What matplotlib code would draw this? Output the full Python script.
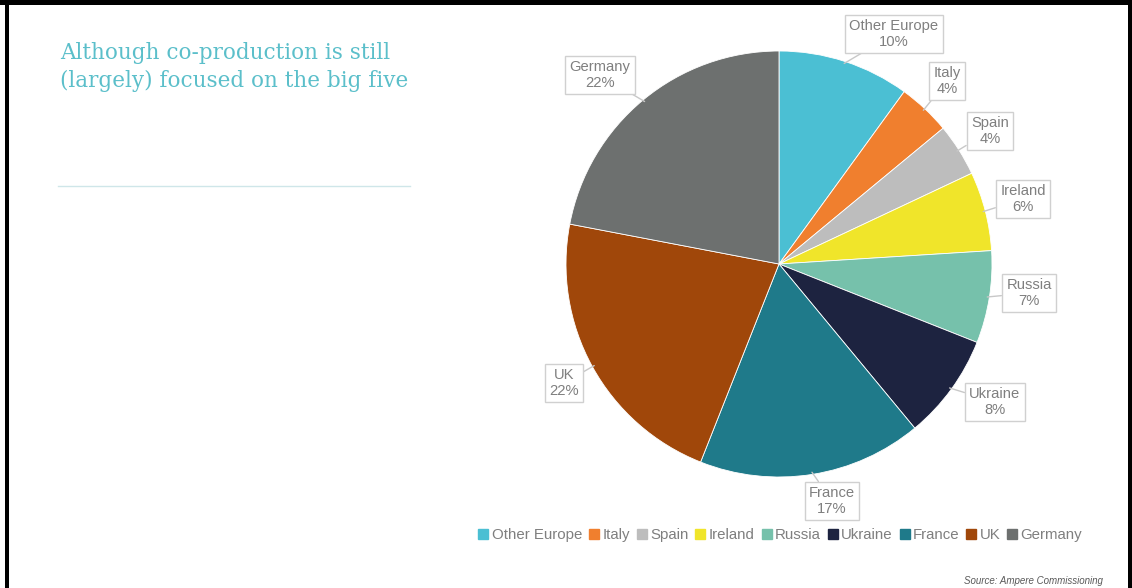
import matplotlib.pyplot as plt
from matplotlib.patches import Rectangle
from matplotlib.lines import Line2D
import numpy as np

categories = ["Other Europe", "Italy", "Spain", "Ireland", "Russia", "Ukraine", "France", "UK", "Germany"]
values = [10, 4, 4, 6, 7, 8, 17, 22, 22]
colors = ["#4bbfd3", "#f07f2e", "#bdbdbd", "#f0e52a", "#76c1ab", "#1d2340", "#1f7a8a", "#a0470a", "#6d706f"]
# label box centres in pixel coords (x from left, y from top)
label_pos = [(894, 34), (947, 81), (990, 131), (1023, 199), (1029, 293), (995, 402), (832, 501), (564, 383), (600, 75)]

W, H = 1132, 588
fig = plt.figure(figsize=(W / 100, H / 100), dpi=100)
fig.patch.set_facecolor("white")

cx, cy, r = 779, 264, 213
ax = fig.add_axes([(cx - r) / W, (H - cy - r) / H, 2 * r / W, 2 * r / H])
wedges, _ = ax.pie(values, colors=colors, startangle=90, counterclock=False,
                   wedgeprops=dict(edgecolor="white", linewidth=0.6))
ax.set_aspect("equal")
ax.set_xlim(-1, 1)
ax.set_ylim(-1, 1)
ax.axis("off")

# callout labels
total = sum(values)
for cat, v, (lx, ly), w in zip(categories, values, label_pos, wedges):
    mid = np.deg2rad((w.theta1 + w.theta2) / 2)
    px, py = 0.99 * np.cos(mid), 0.99 * np.sin(mid)
    tx = (lx - cx) / r
    ty = -(ly - cy) / r
    ax.annotate(f"{cat}\n{round(100 * v / total)}%", xy=(px, py), xytext=(tx, ty),
                ha="center", va="center", fontsize=10.6, color="#7f7f7f",
                family="Liberation Sans", linespacing=1.1,
                bbox=dict(boxstyle="square,pad=0.3", fc="white", ec="#d0d0d0", lw=1),
                arrowprops=dict(arrowstyle="-", color="#c8c8c8", lw=1, shrinkA=0, shrinkB=0),
                annotation_clip=False)

# legend
handles = [Line2D([0], [0], marker="s", linestyle="none", markersize=7, markerfacecolor=c,
                  markeredgecolor=c) for c in colors]
fig.legend(handles, categories, loc="center", bbox_to_anchor=(781 / W, 1 - 535 / H), ncol=9,
           frameon=False, handlelength=0.5, handletextpad=0.3, columnspacing=0.55,
           prop=dict(family="Liberation Sans", size=10.8), labelcolor="#7f7f7f")

# title
fig.text(60 / W, 1 - 67 / H, "Although co-production is still\n(largely) focused on the big five",
         fontsize=15.5, family="DejaVu Serif", color="#5bbfca", va="center", ha="left",
         linespacing=1.4)
fig.add_artist(Line2D([58 / W, 410 / W], [1 - 186 / H, 1 - 186 / H], color="#cfe6e9", lw=1))

# source
fig.text(1103 / W, 1 - 581 / H, "Source: Ampere Commissioning", fontsize=7, style="italic",
         family="Liberation Sans", color="#595959", ha="right", va="center")

# frame
fig.add_artist(Rectangle((0, 1 - 5 / H), 1, 5 / H, color="black", lw=0))
fig.add_artist(Rectangle((5 / W, 0), 4 / W, 1, color="black", lw=0))
fig.add_artist(Rectangle((1 - 4 / W, 0), 4 / W, 1, color="black", lw=0))

fig.savefig("out.png", dpi=100)
